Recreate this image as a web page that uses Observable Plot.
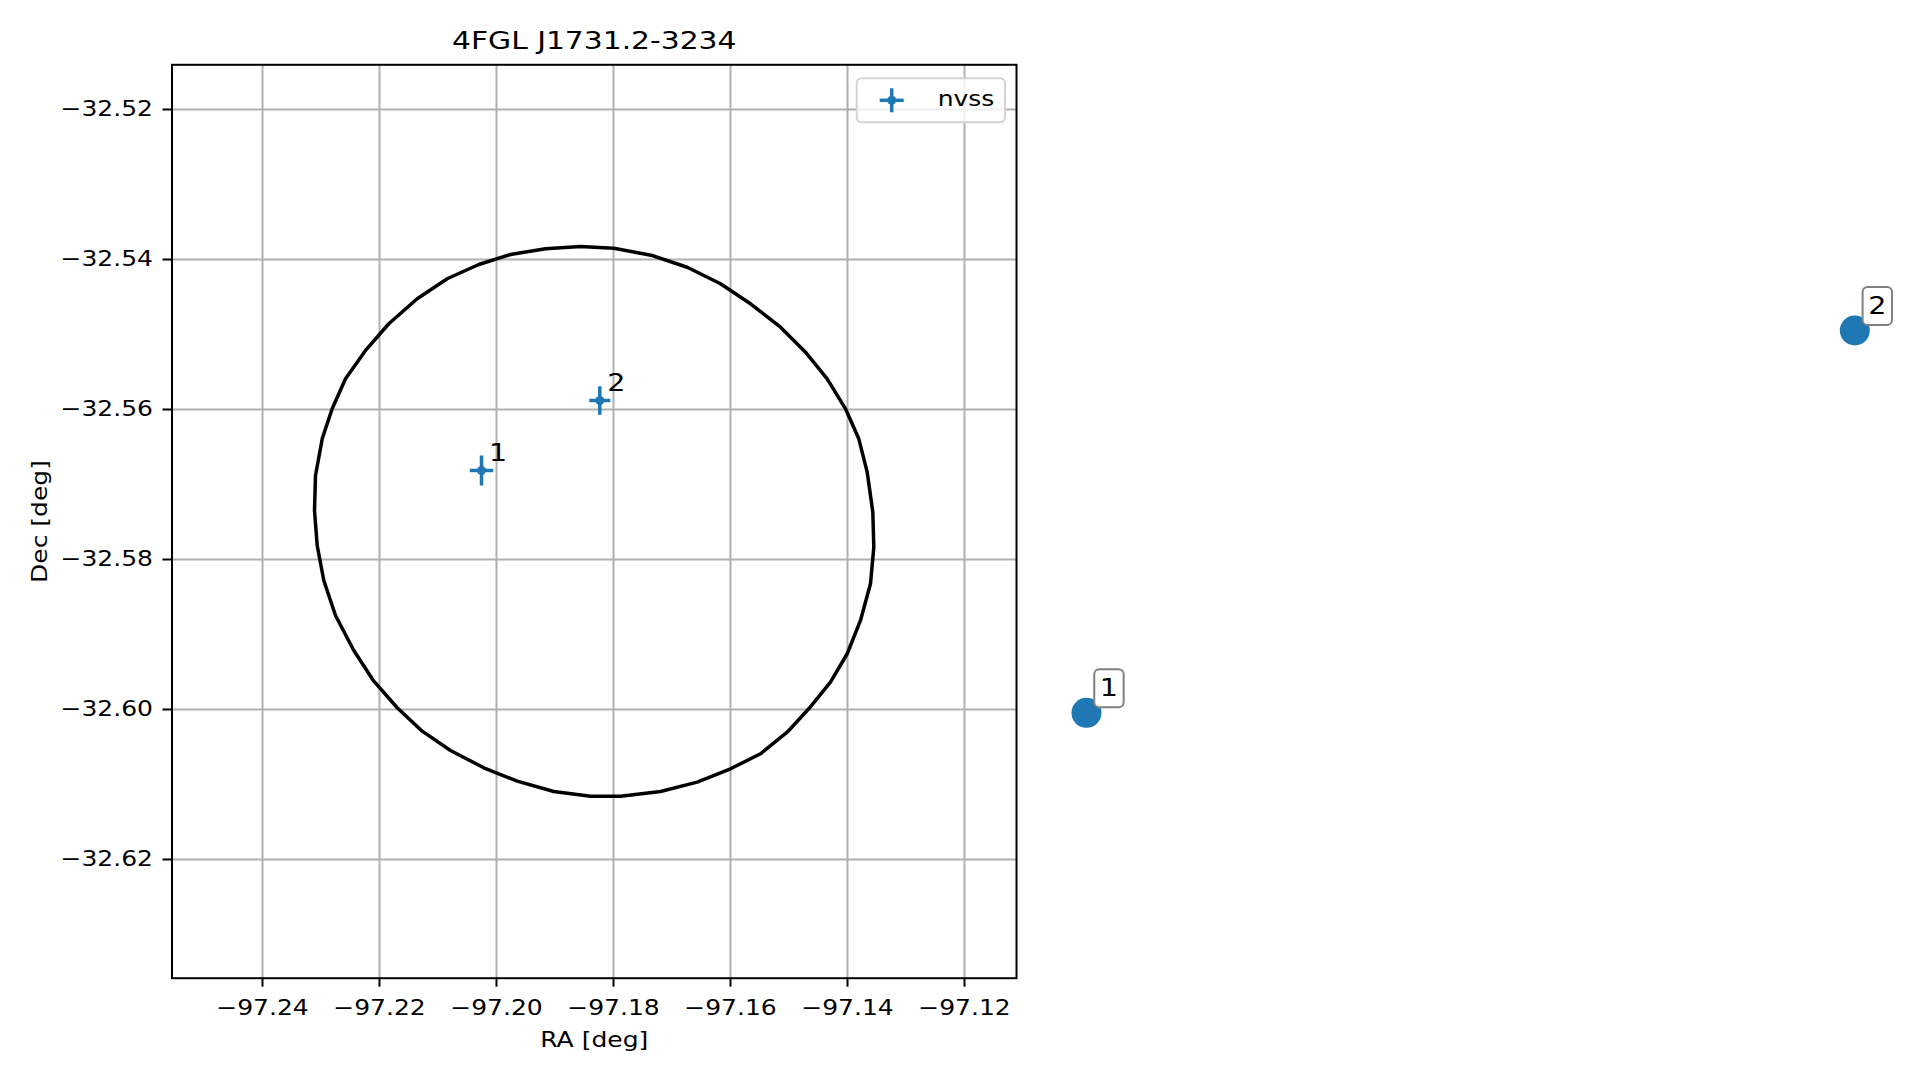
<!DOCTYPE html>
<html>
<head>
<meta charset="utf-8">
<script src="https://cdn.jsdelivr.net/npm/d3@7"></script>
<script src="https://cdn.jsdelivr.net/npm/@observablehq/plot@0.6"></script>
<style>
html, body { margin: 0; padding: 0; background: #ffffff; }
#wrap { position: relative; width: 1919px; height: 1080px; overflow: hidden; }
#wrap svg { position: absolute; left: 0; top: 0; }
</style>
</head>
<body>
<div id="wrap"></div>
<script>
// ---------- data ----------
const title = "4FGL J1731.2-3234";
const xLabel = "RA [deg]";
const yLabel = "Dec [deg]";
const legendLabel = "nvss";

const xDomain = [-97.25547, -97.11111];
const yDomain = [-32.63583, -32.51404];
const xTicks = [-97.24, -97.22, -97.20, -97.18, -97.16, -97.14, -97.12];
const yTicks = [-32.52, -32.54, -32.56, -32.58, -32.60, -32.62];

// NVSS sources (with errors)
const nvssId = ["1", "2"];
const nvssRa = [-97.20256, -97.18234];
const nvssDec = [-32.56813, -32.55880];
const nvssRaErr = [0.0020, 0.0018];
const nvssDecErr = [0.0020, 0.0019];

// 4FGL 95% ellipse outline
const ellipseRa = [-97.18564,-97.17995,-97.17338,-97.16740,-97.16171,-97.15658,-97.15145,-97.14718,-97.14347,-97.14034,
  -97.13807,-97.13663,-97.13567,-97.13550,-97.13607,-97.13778,-97.14005,-97.14291,-97.14662,-97.15031,
  -97.15487,-97.16000,-97.16569,-97.17197,-97.17880,-97.18393,-97.19021,-97.19646,-97.20217,-97.20786,
  -97.21270,-97.21697,-97.22097,-97.22439,-97.22752,-97.22952,-97.23065,-97.23111,-97.23094,-97.22979,
  -97.22809,-97.22581,-97.22239,-97.21841,-97.21356,-97.20843,-97.20303,-97.19761,-97.19162];
const ellipseDec = [-32.53827,-32.53849,-32.53947,-32.54103,-32.54324,-32.54591,-32.54903,-32.55236,-32.55591,-32.55991,
  -32.56391,-32.56836,-32.57369,-32.57836,-32.58324,-32.58813,-32.59257,-32.59636,-32.59991,-32.60303,
  -32.60591,-32.60791,-32.60969,-32.61093,-32.61156,-32.61156,-32.61093,-32.60956,-32.60777,-32.60547,
  -32.60289,-32.59977,-32.59623,-32.59213,-32.58747,-32.58280,-32.57813,-32.57347,-32.56880,-32.56391,
  -32.55991,-32.55591,-32.55213,-32.54857,-32.54524,-32.54257,-32.54067,-32.53933,-32.53857];

// large labelled markers outside the axes
const markerId = ["1", "2"];
const markerRa = [-97.09915, -96.96781];
const markerDec = [-32.60044, -32.54947];

// ---------- build ----------
const BLUE = "#1f77b4";
const FONT = "DejaVu Sans, Verdana, sans-serif";
const STRETCH = 1.19;

const nvss = nvssId.map((id, i) => ({id, ra: nvssRa[i], dec: nvssDec[i], ex: nvssRaErr[i], ey: nvssDecErr[i]}));
const ellipse = ellipseRa.map((ra, i) => ({ra, dec: ellipseDec[i]}));
const markers = markerId.map((id, i) => ({id, ra: markerRa[i], dec: markerDec[i]}));

const fmt = d => (d < 0 ? "\u2212" : "") + Math.abs(d).toFixed(2);

const W = 1919, H = 1080;
const plot = Plot.plot({
  width: W, height: H,
  marginLeft: 171.5, marginRight: W - 1016, marginTop: 64.3, marginBottom: H - 977.7,
  style: {fontFamily: FONT, fontSize: "21px", color: "#000", background: "transparent", overflow: "visible"},
  x: {type: "linear", domain: xDomain},
  y: {type: "linear", domain: yDomain},
  marks: [
    Plot.gridX(xTicks, {stroke: "#b0b0b0", strokeOpacity: 1, strokeWidth: 2}),
    Plot.gridY(yTicks, {stroke: "#b0b0b0", strokeOpacity: 1, strokeWidth: 2}),
    Plot.line(ellipse, {x: "ra", y: "dec", stroke: "#000", strokeWidth: 3.5, curve: "linear-closed"}),
    // error bars
    Plot.link(nvss, {x1: d => d.ra - d.ex, x2: d => d.ra + d.ex, y1: "dec", y2: "dec", stroke: BLUE, strokeWidth: 3.5}),
    Plot.link(nvss, {x1: "ra", x2: "ra", y1: d => d.dec - d.ey, y2: d => d.dec + d.ey, stroke: BLUE, strokeWidth: 3.5}),
    Plot.dot(nvss, {x: "ra", y: "dec", r: 4.5, fill: BLUE, stroke: "none"}),
    Plot.text(nvss, {x: "ra", y: "dec", text: "id", dx: 7.5, dy: -9.3, textAnchor: "start", lineAnchor: "bottom", fontSize: 24, fill: "#000"}),
    // outside markers
    Plot.dot(markers, {x: "ra", y: "dec", r: 15, fill: BLUE, stroke: "none"}),
    // axes
    Plot.axisX({ticks: xTicks, tickFormat: fmt, tickSize: 9, tickPadding: 13, strokeWidth: 2, label: null, fontSize: 21}),
    Plot.axisY({ticks: yTicks, tickFormat: fmt, tickSize: 9, tickPadding: 10, strokeWidth: 2, label: null, fontSize: 21}),
    Plot.frame({stroke: "#000", strokeWidth: 2}),
    Plot.text([xLabel], {frameAnchor: "bottom", dy: 69, lineAnchor: "bottom", textAnchor: "middle", fontSize: 21, fill: "#000"}),
    Plot.text([yLabel], {frameAnchor: "left", dx: 46 - 171.5, rotate: -90, lineAnchor: "bottom", textAnchor: "middle", fontSize: 21, fill: "#000"}),
    Plot.text([title], {frameAnchor: "top", dy: -16, lineAnchor: "bottom", textAnchor: "middle", fontSize: 25, fill: "#000"})
  ]
});

document.getElementById("wrap").appendChild(plot);

const svg = d3.select(plot);
const xs = plot.scale("x"), ys = plot.scale("y");
const fx1 = xs.range[1], fy0 = ys.range[1];

// boxed labels of the outside markers, placed through the plot's scales
const bl = svg.append("g").attr("class", "boxed-labels");
markers.forEach(m => {
  const px = xs.apply(m.ra), py = ys.apply(m.dec);
  bl.append("rect").attr("x", px + 8.3).attr("y", py - 43).attr("width", 29.4).attr("height", 38)
    .attr("rx", 5).attr("fill", "#fff").attr("stroke", "#808080").attr("stroke-width", 2);
  bl.append("text").attr("x", px + 23).attr("y", py - 16.5).attr("text-anchor", "middle")
    .attr("font-size", 24).attr("font-family", FONT).attr("fill", "#000").text(m.id);
});

// legend (upper right inside the axes)
const lgW = 148.3, lgH = 44;
const lgX = fx1 - 11 - lgW, lgY = fy0 + 14;
const lg = svg.append("g").attr("class", "legend");
lg.append("rect").attr("x", lgX).attr("y", lgY).attr("width", lgW).attr("height", lgH)
  .attr("rx", 5).attr("fill", "#fff").attr("fill-opacity", 0.8)
  .attr("stroke", "#d4d4d4").attr("stroke-width", 2);
const cx = lgX + 35, cy = lgY + lgH / 2;
lg.append("line").attr("x1", cx - 12).attr("x2", cx + 12).attr("y1", cy).attr("y2", cy).attr("stroke", BLUE).attr("stroke-width", 3.5);
lg.append("line").attr("x1", cx).attr("x2", cx).attr("y1", cy - 12).attr("y2", cy + 12).attr("stroke", BLUE).attr("stroke-width", 3.5);
lg.append("circle").attr("cx", cx).attr("cy", cy).attr("r", 4.5).attr("fill", BLUE);
lg.append("text").attr("x", lgX + 81).attr("y", cy + 5.5).attr("text-anchor", "start")
  .attr("font-size", 21).attr("font-family", FONT).attr("fill", "#000").text(legendLabel);

// stretch all text horizontally to the reference's wide letterforms
plot.querySelectorAll("text").forEach(el => {
  const L = el.getComputedTextLength();
  if (L > 0) {
    el.setAttribute("textLength", (L * STRETCH).toFixed(2));
    el.setAttribute("lengthAdjust", "spacingAndGlyphs");
  }
});
</script>
</body>
</html>
